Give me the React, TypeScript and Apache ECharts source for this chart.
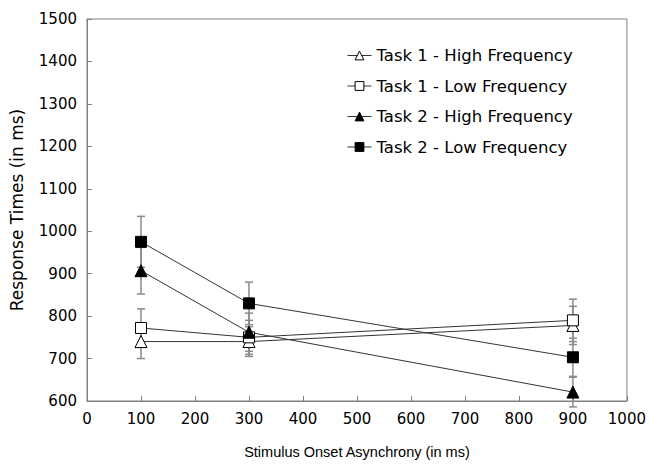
import React, { useEffect, useRef } from "react";
import * as echarts from "echarts";

const soa = [100, 300, 900];
const xTicks = [0, 100, 200, 300, 400, 500, 600, 700, 800, 900, 1000];
const yTicks = [600, 700, 800, 900, 1000, 1100, 1200, 1300, 1400, 1500];

const seriesNames = [
  "Task 1 - High Frequency",
  "Task 1 - Low Frequency",
  "Task 2 - High Frequency",
  "Task 2 - Low Frequency",
];
const t1High = [740, 740, 778];
const t1HighErr = [40, 35, 45];
const t1Low = [772, 750, 790];
const t1LowErr = [45, 40, 50];
const t2High = [907, 762, 621];
const t2HighErr = [55, 45, 35];
const t2Low = [975, 830, 703];
const t2LowErr = [60, 50, 45];

const FONT = "'DejaVu Sans', Arial, sans-serif";
const FONT2 = "'Liberation Sans', Arial, sans-serif";

export default function App() {
  const ref = useRef<HTMLDivElement>(null);
  useEffect(() => {
    if (!ref.current) return;
    const chart = echarts.init(ref.current, undefined, { renderer: "svg" });
    const values = [t1High, t1Low, t2High, t2Low];
    const errs = [t1HighErr, t1LowErr, t2HighErr, t2LowErr];
    const symbols = ["triangle", "rect", "triangle", "rect"];
    const filled = [false, false, true, true];
    const sizes = [12, 11, 12, 11];

    const errData: number[][] = [];
    values.forEach((vals, si) => {
      vals.forEach((v, i) => {
        errData.push([soa[i], v - errs[si][i], v + errs[si][i]]);
      });
    });

    const lineSeries = values.map((vals, si) => ({
      type: "line",
      name: seriesNames[si],
      data: vals.map((v, i) => [soa[i], v]),
      symbol: symbols[si],
      symbolSize: sizes[si],
      z: 5,
      lineStyle: { color: "#333", width: 1 },
      itemStyle: {
        color: filled[si] ? "#000" : "#fff",
        borderColor: "#000",
        borderWidth: 1,
      },
    }));

    const option: any = {
      animation: false,
      backgroundColor: "#fff",
      textStyle: { fontFamily: FONT },
      grid: {
        left: 86,
        right: 21,
        top: 19,
        bottom: 62,
        show: true,
        borderColor: "#808080",
        borderWidth: 1,
      },
      legend: {
        orient: "vertical",
        left: 342,
        top: 42,
        itemWidth: 24,
        itemHeight: 11,
        itemGap: 13.5,
        data: seriesNames.map((n) => ({
          name: n,
          itemStyle: { borderWidth: 1 },
          lineStyle: { width: 1 },
        })),
        textStyle: { fontSize: 16.5, color: "#000", fontFamily: FONT },
      },
      xAxis: {
        type: "value",
        min: xTicks[0],
        max: xTicks[xTicks.length - 1],
        interval: 100,
        name: "Stimulus Onset Asynchrony (in ms)",
        nameLocation: "middle",
        nameGap: 43,
        nameTextStyle: { fontSize: 14.5, color: "#000", fontFamily: FONT2 },
        axisLine: { show: true, lineStyle: { color: "#808080" } },
        axisTick: { show: true, inside: true, length: 5, lineStyle: { color: "#808080" } },
        axisLabel: {
          fontSize: 15,
          color: "#000",
          margin: 10,
          fontFamily: FONT,
          formatter: (v: number) => String(v),
        },
        splitLine: { show: false },
      },
      yAxis: {
        type: "value",
        min: yTicks[0],
        max: yTicks[yTicks.length - 1],
        interval: 100,
        name: "Response Times (in ms)",
        nameLocation: "middle",
        nameGap: 62,
        nameTextStyle: { fontSize: 17, color: "#000", fontFamily: FONT },
        axisLine: { show: true, lineStyle: { color: "#808080" } },
        axisTick: { show: true, inside: true, length: 5, lineStyle: { color: "#808080" } },
        axisLabel: {
          fontSize: 15,
          color: "#000",
          margin: 10,
          fontFamily: FONT,
          formatter: (v: number) => String(v),
        },
        splitLine: { show: false },
      },
      series: [
        {
          type: "custom",
          z: 2,
          silent: true,
          clip: false,
          data: errData,
          renderItem: (params: any, api: any) => {
            const x = api.value(0);
            const lo = api.coord([x, api.value(1)]);
            const hi = api.coord([x, api.value(2)]);
            const w = 4;
            const style = { stroke: "#8a8a8a", lineWidth: 1.5 };
            return {
              type: "group",
              children: [
                { type: "line", shape: { x1: lo[0], y1: lo[1], x2: hi[0], y2: hi[1] }, style },
                { type: "line", shape: { x1: lo[0] - w, y1: lo[1], x2: lo[0] + w, y2: lo[1] }, style },
                { type: "line", shape: { x1: hi[0] - w, y1: hi[1], x2: hi[0] + w, y2: hi[1] }, style },
              ],
            };
          },
        },
        ...lineSeries,
      ],
    };
    chart.setOption(option);
    return () => chart.dispose();
  }, []);
  return (
    <div
      ref={ref}
      style={{ position: "absolute", left: 0, top: 0, width: 649, height: 464 }}
    />
  );
}
